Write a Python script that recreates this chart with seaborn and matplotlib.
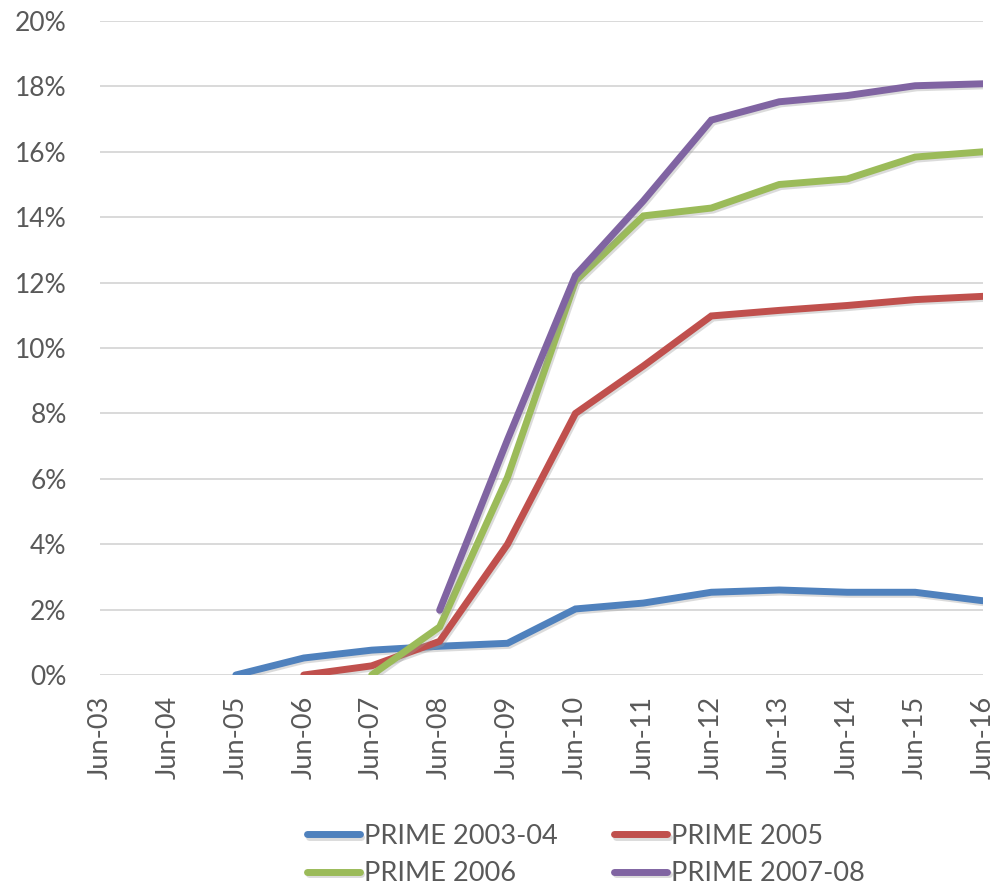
import numpy as np
import pandas as pd
import matplotlib
matplotlib.use("Agg")
import matplotlib.pyplot as plt
import matplotlib.patheffects as pe
import seaborn as sns

periods = ["Jun-03", "Jun-04", "Jun-05", "Jun-06", "Jun-07", "Jun-08", "Jun-09",
           "Jun-10", "Jun-11", "Jun-12", "Jun-13", "Jun-14", "Jun-15", "Jun-16"]

prime_2003_04 = [np.nan, np.nan, 0.0, 0.52, 0.76, 0.88, 0.97, 2.02, 2.2, 2.53, 2.6, 2.53, 2.53, 2.27]
prime_2005 = [np.nan, np.nan, np.nan, 0.0, 0.28, 1.03, 4.0, 8.0, 9.45, 10.98, 11.15, 11.3, 11.48, 11.58]
prime_2006 = [np.nan, np.nan, np.nan, np.nan, 0.0, 1.47, 6.05, 12.05, 14.04, 14.28, 15.0, 15.17, 15.84, 16.0]
prime_2007_08 = [np.nan, np.nan, np.nan, np.nan, np.nan, 1.98, 7.2, 12.22, 14.5, 16.97, 17.53, 17.72, 18.02, 18.08]

series_names = ["PRIME 2003-04", "PRIME 2005", "PRIME 2006", "PRIME 2007-08"]
series_values = [prime_2003_04, prime_2005, prime_2006, prime_2007_08]
colors = ["#4F81BD", "#C0504D", "#9BBB59", "#8064A2"]

frames = []
for name, vals in zip(series_names, series_values):
    frames.append(pd.DataFrame({"pos": np.arange(len(periods)), "rate": vals, "series": name}))
df = pd.concat(frames).dropna()

sns.set_theme(style="white")
plt.rcParams["font.family"] = ["Lato", "DejaVu Sans"]

fig = plt.figure(figsize=(9.96, 8.89), dpi=100)
ax = fig.add_axes([100 / 996, 1 - 675 / 889, (983 - 100) / 996, (675 - 21) / 889])

sns.lineplot(data=df, x="pos", y="rate", hue="series", hue_order=series_names,
             palette=colors, linewidth=5.0, ax=ax, legend=True,
             solid_capstyle="round", solid_joinstyle="miter")

for line in ax.get_lines():
    line.set_path_effects([pe.SimpleLineShadow(offset=(1.2, -1.5), shadow_color="#9a9a9a", alpha=0.35),
                           pe.Normal()])

ax.set_xlim(0, len(periods) - 1)
ax.set_ylim(0, 20)
ax.set_yticks(np.arange(0, 21, 2))
ax.set_yticklabels([f"{v}%" for v in range(0, 21, 2)], fontsize=19, color="#595959")
ax.set_xticks(np.arange(len(periods)))
ax.set_xticklabels(periods, rotation=90, fontsize=19.5, color="#595959")
ax.tick_params(axis="y", length=0, pad=24)
ax.tick_params(axis="x", length=0, pad=15)
ax.yaxis.grid(True, color="#D9D9D9", linewidth=1.4)
ax.xaxis.grid(False)
for s in ax.spines.values():
    s.set_visible(False)
ax.set_xlabel("")
ax.set_ylabel("")

# legend entries go row by row: 2003-04, 2005 / 2006, 2007-08
handles, labels = ax.get_legend_handles_labels()
ax.legend_.remove()
order = [0, 2, 1, 3]
leg = fig.legend([handles[i] for i in order], [labels[i] for i in order],
                 loc="center", bbox_to_anchor=(586 / 996, 1 - 855 / 889),
                 ncol=2, frameon=False, fontsize=19.5, handlelength=1.95, handletextpad=0.15,
                 columnspacing=2.1, labelspacing=0.45, labelcolor="#595959")
for h in leg.legend_handles:
    h.set_linewidth(5.0)
    h.set_solid_capstyle("round")

fig.savefig("out.png", dpi=100, facecolor="white")
